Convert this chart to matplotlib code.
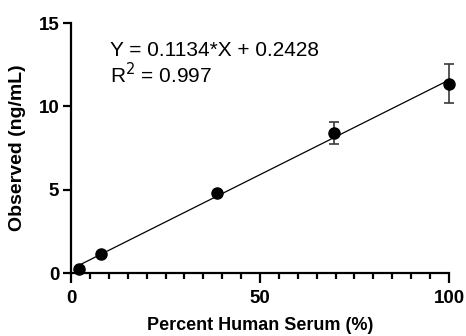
import matplotlib
matplotlib.use("Agg")
import matplotlib.pyplot as plt
import numpy as np
from matplotlib.ticker import MultipleLocator

plt.rcParams['font.family'] = ['Liberation Sans', 'DejaVu Sans']

# data
serum_pct = [2, 8, 38.5, 69.5, 100]
observed = [0.24, 1.16, 4.83, 8.42, 11.36]
observed_sd = [0, 0, 0, 0.67, 1.17]
slope = 0.1134
intercept = 0.2428
r2 = 0.997

fig = plt.figure(figsize=(4.66, 3.36), dpi=100)
ax = fig.add_axes([0.1524, 0.1866, 0.8111, 0.7449])

xs = np.array([min(serum_pct), max(serum_pct)])
ax.plot(xs, slope * xs + intercept, color='black', lw=0.9, zorder=2)

# error bars only where the SD is visible
x_arr = np.array(serum_pct)
y_arr = np.array(observed)
sd_arr = np.array(observed_sd)
has_sd = sd_arr > 0
ax.errorbar(x_arr[has_sd], y_arr[has_sd], yerr=sd_arr[has_sd], fmt='none',
            ecolor='#3a3a3a', elinewidth=1.2, capsize=3.8, capthick=1.2,
            clip_on=False, zorder=3)
ax.plot(x_arr, y_arr, 'o', color='black', ms=8, clip_on=False, zorder=4)

ax.set_xlim(0, 100)
ax.set_ylim(0, 15)
ax.set_xticks([0, 50, 100])
ax.set_yticks([0, 5, 10, 15])
ax.xaxis.set_minor_locator(MultipleLocator(5))

for s in ['top', 'right']:
    ax.spines[s].set_visible(False)
for s in ['left', 'bottom']:
    ax.spines[s].set_linewidth(1.6)

ax.tick_params(axis='x', which='major', length=7, width=1.6, pad=5)
ax.tick_params(axis='x', which='minor', length=4.5, width=1.6)
ax.tick_params(axis='y', which='major', length=5.5, width=1.6, pad=3)
for lab in ax.get_xticklabels() + ax.get_yticklabels():
    lab.set_fontsize(13.5)
    lab.set_fontweight('bold')

ax.set_xlabel('Percent Human Serum (%)', fontsize=13, fontweight='bold', labelpad=7)
ax.set_ylabel('Observed (ng/mL)', fontsize=14, fontweight='bold', labelpad=9)

ax.text(10.3, 13.0, f'Y = {slope}*X + {intercept}', fontsize=15, va='baseline')
ax.text(10.3, 11.4, f'R$^2$ = {r2}', fontsize=15, va='baseline')

fig.savefig('out.png', dpi=100)
